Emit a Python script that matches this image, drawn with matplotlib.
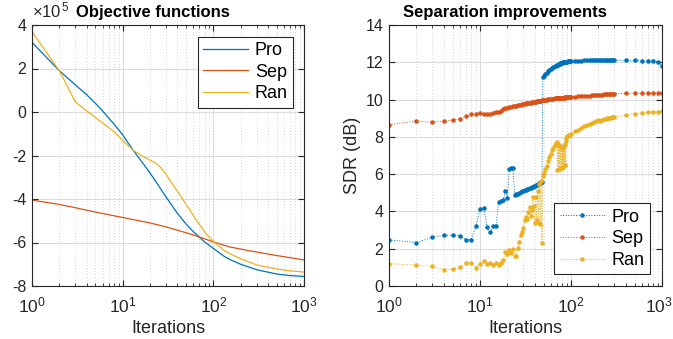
import math
import matplotlib
matplotlib.use('Agg')
import matplotlib.pyplot as plt
import matplotlib.transforms as mtransforms
from matplotlib.ticker import LogLocator, FixedLocator, FuncFormatter, NullFormatter

plt.rcParams['font.family'] = ['Liberation Sans', 'DejaVu Sans']
plt.rcParams['axes.unicode_minus'] = False
plt.rcParams['mathtext.fontset'] = 'custom'
plt.rcParams['mathtext.rm'] = 'Liberation Sans'
plt.rcParams['mathtext.it'] = 'Liberation Sans'

# ---------------- data: objective functions (x 1e5) ----------------
obj_x_pro = [1, 2, 3, 4, 5, 6, 8, 10, 13, 16, 20, 25, 30, 40, 50, 60, 70, 80, 100, 130, 150, 200, 300, 500, 700, 1000]
obj_pro = [3.20, 1.90, 1.25, 0.80, 0.40, 0.05, -0.55, -1.05, -1.75, -2.25, -2.80, -3.40, -3.90, -4.65, -5.15,
           -5.50, -5.75, -5.97, -6.27, -6.62, -6.77, -7.00, -7.25, -7.45, -7.52, -7.56]
obj_x_ran = [1, 2, 3, 4, 5, 6, 8, 10, 13, 16, 20, 23, 26, 30, 33, 38, 43, 50, 55, 62, 71, 85, 104, 130, 150, 196,
             300, 500, 700, 1000]
obj_ran = [3.69, 1.90, 0.47, 0.05, -0.25, -0.50, -0.90, -1.30, -1.75, -2.00, -2.21, -2.34, -2.53, -2.85, -3.13, -3.50,
           -3.82, -4.25, -4.50, -4.85, -5.20, -5.65, -6.00, -6.35, -6.50, -6.73, -7.03, -7.22, -7.30, -7.36]
obj_x_sep = [1, 2, 3, 5, 10, 20, 30, 50, 65, 100, 150, 250, 500, 1000]
obj_sep = [-4.05, -4.25, -4.40, -4.60, -4.85, -5.10, -5.28, -5.55, -5.70, -5.97, -6.20, -6.38, -6.60, -6.80]

# ---------------- data: SDR improvements (dB) ----------------
iters = (list(range(1, 51)) + list(range(52, 69, 2)) + list(range(70, 91))
         + list(range(92, 101, 2)) + list(range(110, 301, 10)) + [400, 500, 600, 700, 800, 900, 1000])

sdr_pro = [2.47, 2.33, 2.61, 2.72, 2.71, 2.70, 2.49, 2.49, 3.20, 4.15,
           4.17, 3.15, 2.92, 3.22, 3.23, 4.52, 4.56, 4.60, 5.10, 4.70,
           6.28, 6.33, 6.35, 4.88, 4.92, 4.96, 5.00, 5.03, 5.07, 5.10,
           5.13, 5.16, 5.19, 5.22, 5.25, 5.28, 5.30, 5.33, 5.36, 5.38,
           5.41, 5.43, 5.46, 5.48, 5.50, 5.53, 5.55, 5.58, 11.22, 11.28,
           11.36, 11.44, 11.52, 11.58, 11.64, 11.69, 11.74, 11.78, 11.82,
           11.85, 11.87, 11.88, 11.90, 11.91, 11.92, 11.94, 11.95, 11.96, 11.97, 11.98,
           11.99, 12.00, 12.00, 12.01, 12.02, 12.02, 12.03, 12.03, 12.04, 12.04,
           12.05, 12.05, 12.06, 12.06, 12.07,
           12.08, 12.09, 12.09, 12.10, 12.10, 12.10, 12.11, 12.11, 12.11, 12.11,
           12.11, 12.12, 12.12, 12.12, 12.12, 12.12, 12.12, 12.12, 12.12, 12.12,
           12.10, 12.10, 12.09, 12.08, 12.07, 12.03, 11.80]

sdr_sep = [8.65, 8.85, 8.78, 8.85, 8.90, 8.97, 9.12, 9.20, 9.25, 9.30,
           9.20, 9.22, 9.25, 9.28, 9.31, 9.34, 9.37, 9.50, 9.54, 9.57,
           9.60, 9.62, 9.64, 9.66, 9.68, 9.70, 9.72, 9.73, 9.75, 9.76,
           9.78, 9.79, 9.80, 9.82, 9.83, 9.84, 9.85, 9.86, 9.87, 9.88,
           9.89, 9.90, 9.91, 9.92, 9.93, 9.94, 9.95, 9.96, 9.97, 9.98,
           9.99, 10.00, 10.01, 10.02, 10.03, 10.04, 10.05, 10.06, 10.06,
           10.07, 10.07, 10.08, 10.08, 10.08, 10.09, 10.09, 10.09, 10.10, 10.10, 10.10,
           10.10, 10.11, 10.11, 10.11, 10.11, 10.12, 10.12, 10.12, 10.12, 10.12,
           10.13, 10.13, 10.13, 10.14, 10.14,
           10.16, 10.17, 10.18, 10.19, 10.20, 10.21, 10.22, 10.23, 10.24, 10.25,
           10.26, 10.27, 10.28, 10.29, 10.30, 10.30, 10.31, 10.31, 10.32, 10.32,
           10.33, 10.34, 10.35, 10.35, 10.36, 10.36, 10.36]

sdr_ran = [1.20, 1.12, 1.05, 0.88, 0.90, 1.00, 1.22, 1.25, 0.98, 1.18,
           1.32, 1.20, 1.22, 1.15, 1.22, 1.10, 1.22, 1.40, 1.84, 1.70,
           1.95, 1.75, 1.98, 1.62, 1.60, 2.05, 2.38, 2.74, 2.90, 3.10,
           3.54, 3.70, 3.60, 3.95, 4.25, 3.75, 4.05, 4.79, 4.30, 3.38,
           4.80, 3.55, 5.10, 3.40, 5.45, 3.35, 5.65, 2.30, 5.90, 6.05,
           6.25, 6.45, 6.70, 6.90, 7.10, 7.28, 7.42, 7.55, 7.65,
           7.70, 6.22, 7.62, 6.25, 7.55, 6.28, 7.50, 6.32, 7.45, 6.35, 7.42,
           6.40, 7.45, 6.44, 7.50, 6.48, 7.60, 6.50, 7.80, 7.95, 8.02,
           8.05, 8.08, 8.10, 8.12, 8.15,
           8.30, 8.38, 8.48, 8.57, 8.63, 8.70, 8.76, 8.82, 8.86, 8.90,
           8.85, 8.92, 8.95, 8.98, 9.00, 9.02, 9.03, 9.05, 9.06, 9.07,
           9.15, 9.24, 9.28, 9.31, 9.34, 9.36, 9.37]

labels = ['Pro', 'Sep', 'Ran']
colors = ['#0072BD', '#D95319', '#EDB120']
axcol = '#262626'

fig = plt.figure(figsize=(6.73, 3.39), dpi=100)
ax1 = fig.add_axes([32/673, 1-286/339, 272/673, 261/339])
ax2 = fig.add_axes([389/673, 1-286/339, 273/673, 261/339])


def style(ax):
    ax.set_xscale('log')
    ax.set_xlim(1, 1000)
    ax.xaxis.set_major_locator(FixedLocator([1, 10, 100, 1000]))
    ax.xaxis.set_minor_locator(LogLocator(base=10, subs=range(2, 10), numticks=20))
    ax.xaxis.set_minor_formatter(NullFormatter())
    ax.xaxis.set_major_formatter(FuncFormatter(lambda v, p: r'$10^{%d}$' % round(math.log10(v))))
    ax.grid(True, which='major', color='#dcdcdc', linewidth=0.8, linestyle='-')
    ax.grid(True, which='minor', axis='x', color='#c8c8c8', linewidth=0.6, linestyle=(0, (1, 2.5)))
    ax.set_axisbelow(True)
    for s in ax.spines.values():
        s.set_color(axcol)
        s.set_linewidth(0.8)
    ax.tick_params(which='both', direction='in', top=True, right=True, colors=axcol,
                   labelcolor=axcol)
    ax.tick_params(axis='y', labelsize=11.5, pad=4)
    ax.tick_params(axis='x', labelsize=12.5, pad=7)
    ax.tick_params(which='major', length=4)
    ax.tick_params(which='minor', length=2)
    ax.set_xlabel('Iterations', fontsize=13, color=axcol, labelpad=3)


style(ax1)
style(ax2)

# left plot
ax1.plot(obj_x_pro, obj_pro, color=colors[0], lw=0.9, label=labels[0])
ax1.plot(obj_x_sep, obj_sep, color=colors[1], lw=0.9, label=labels[1])
ax1.plot(obj_x_ran, obj_ran, color=colors[2], lw=0.9, label=labels[2])
ax1.set_ylim(-8, 4)
ax1.yaxis.set_major_locator(FixedLocator([-8, -6, -4, -2, 0, 2, 4]))
ax1.yaxis.set_major_formatter(FuncFormatter(lambda v, p: '%d' % v))
ax1.set_title('Objective functions', fontsize=12, fontweight='bold', pad=6, x=0.445)
ax1.text(0.0, 1.018, r'$\times 10^{\,5}$', transform=ax1.transAxes, fontsize=12,
         color=axcol, ha='left', va='bottom')
leg1 = ax1.legend(loc='upper right', bbox_to_anchor=(0.96, 0.955), fontsize=13, fancybox=False,
                  framealpha=1, edgecolor=axcol, handlelength=2.5, handletextpad=0.35,
                  borderpad=0.3, labelspacing=0.25, borderaxespad=0)
leg1.get_frame().set_linewidth(0.8)

# right plot
for y, c, l in zip([sdr_pro, sdr_sep, sdr_ran], colors, labels):
    ax2.plot(iters, y, color=c, lw=0.7, linestyle=':', marker='.', markersize=4.5, label=l)
ax2.set_ylim(0, 14)
ax2.yaxis.set_major_locator(FixedLocator(list(range(0, 15, 2))))
ax2.yaxis.set_major_formatter(FuncFormatter(lambda v, p: '%d' % v))
ax2.set_ylabel('SDR (dB)', fontsize=13, color=axcol, labelpad=3)
ax2.set_title('Separation improvements', fontsize=12, fontweight='bold', pad=6, x=0.425)
leg2 = ax2.legend(loc='lower right', bbox_to_anchor=(0.955, 0.045), fontsize=13, fancybox=False,
                  framealpha=1, edgecolor=axcol, handlelength=2.5, handletextpad=0.35,
                  borderpad=0.3, labelspacing=0.25, borderaxespad=0)
leg2.get_frame().set_linewidth(0.8)

# nudge the rightmost tick label of the right plot inward so it stays inside the figure
last_tick = ax2.xaxis.get_major_ticks()[-1]
last_tick.label1.set_transform(last_tick.label1.get_transform()
                               + mtransforms.ScaledTranslation(-3/100, 0, fig.dpi_scale_trans))

fig.savefig('out.png', dpi=100)
